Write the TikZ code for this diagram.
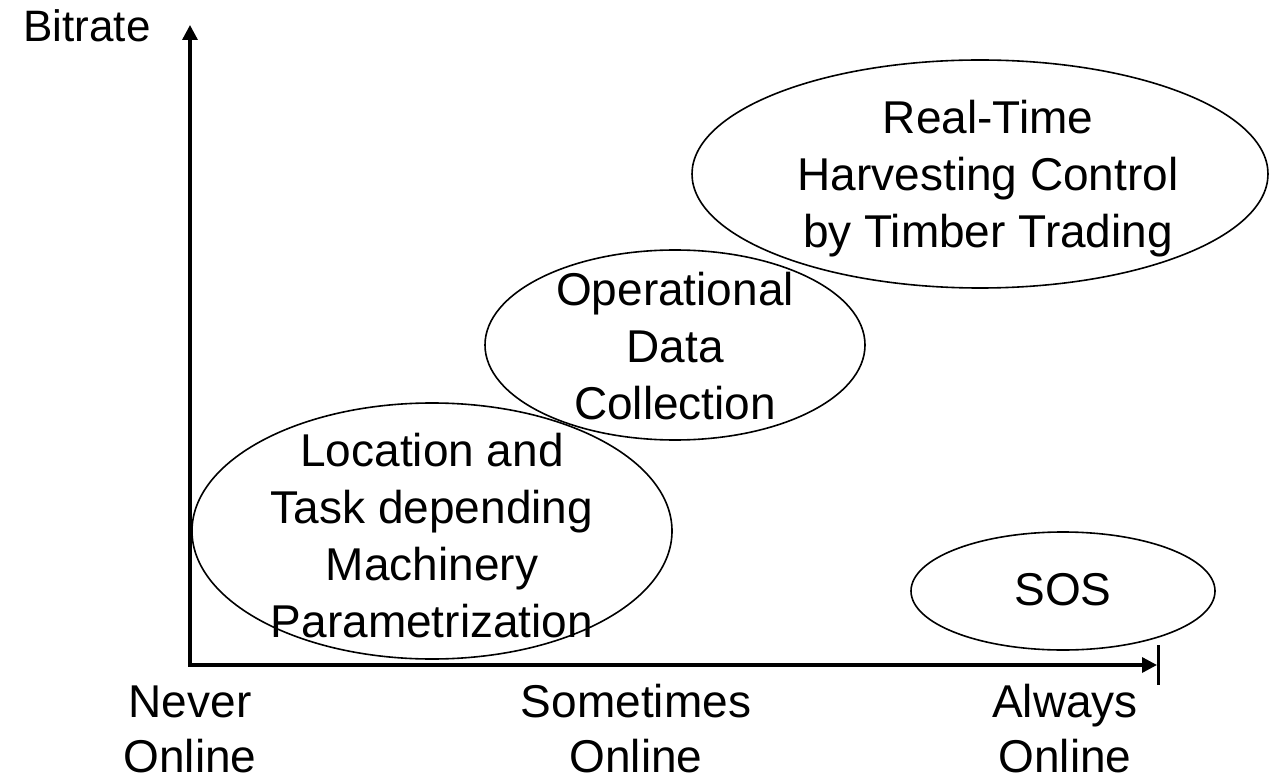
\documentclass[tikz,border=0pt]{standalone}
\usepackage{fontspec}
\setmainfont{Liberation Sans}
\usetikzlibrary{shapes.geometric,arrows.meta}
\tikzset{
  bubble/.style={draw, ellipse, line width=1.6pt, inner sep=0pt},
  bubbletext/.style={align=center, inner sep=0pt, font=\fontsize{46}{57}\selectfont},
  axislabel/.style={align=center, inner sep=0pt, font=\fontsize{46}{55}\selectfont},
  axisline/.style={line width=3.3pt, line join=miter,
    {Triangle[length=15pt,width=15pt]}-{Triangle[length=15pt,width=15pt]}},
  endtick/.style={line width=3pt},
}
\begin{document}
\begin{tikzpicture}[x=1pt,y=-1pt]
\useasboundingbox (0,0) rectangle (1271,783);

% axes
\coordinate (origin) at (190,665);
\coordinate (ytip) at (190,25);
\coordinate (xtip) at (1157,665);
\coordinate (tick-top) at (1158,645);
\coordinate (tick-bot) at (1158,685);
\draw[axisline] (ytip) -- (origin) -- (xtip);
\draw[endtick] (tick-top) -- (tick-bot);

% axis labels
\node[anchor=base, inner sep=0pt, font=\fontsize{44}{52}\selectfont] (ylabel) at (87,42) {Bitrate};
\node[axislabel] (never) at (190,729) {Never\\Online};
\node[axislabel] (sometimes) at (636,729) {Sometimes\\Online};
\node[axislabel] (always) at (1065,729) {Always\\Online};

% application areas
\node[bubble, minimum width=576pt, minimum height=228pt] (realtime) at (980,174) {};
\node[bubbletext] (realtime-text) at (988,179) {Real-Time\\Harvesting Control\\by Timber Trading};

\node[bubble, minimum width=380pt, minimum height=190pt] (opdata) at (675,345) {};
\node[bubbletext] (opdata-text) at (675,346) {Operational\\Data\\Collection};

\node[bubble, minimum width=480pt, minimum height=256pt] (location) at (432,531) {};
\node[bubbletext] (location-text) at (432,536) {Location and\\Task depending\\Machinery\\Parametrization};

\node[bubble, minimum width=304pt, minimum height=118pt] (sos) at (1063,591) {};
\node[bubbletext] (sos-text) at (1063,590) {SOS};
\end{tikzpicture}
\end{document}
